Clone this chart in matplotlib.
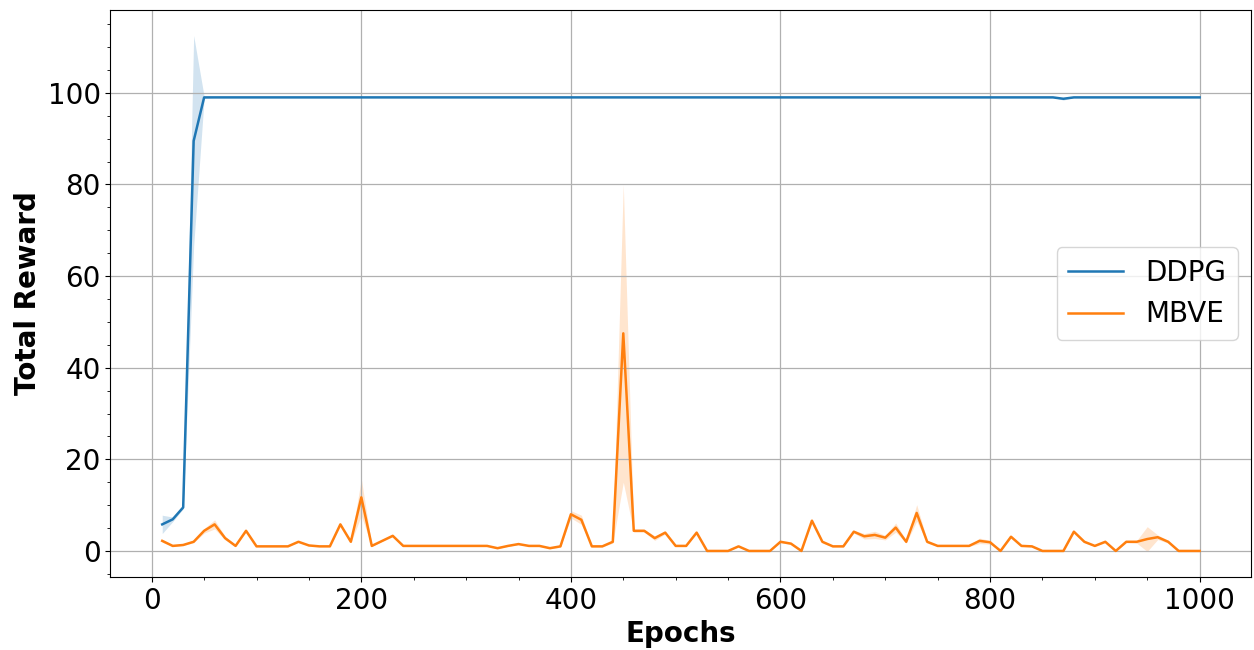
import numpy as np
import matplotlib
matplotlib.use("Agg")
import matplotlib.pyplot as plt

epochs = list(range(10, 1001, 10))

ddpg_mean = [5.8, 6.9, 9.5, 89.5] + [99.0] * 96
ddpg_mean[86] = 98.7
ddpg_std = [2.0, 0.5, 0.3, 23.0, 0.2] + [0.0] * 95
ddpg_std[86] = 0.3

mbve_mean = [
    2.2, 1.1, 1.3, 2.0, 4.4, 5.8, 2.8, 1.1, 4.4, 1.0,
    1.0, 1.0, 1.0, 2.0, 1.2, 1.0, 1.0, 5.8, 2.0, 11.7,
    1.1, 2.2, 3.3, 1.1, 1.1, 1.1, 1.1, 1.1, 1.1, 1.1,
    1.1, 1.1, 0.6, 1.1, 1.5, 1.1, 1.1, 0.6, 1.0, 8.0,
    6.8, 1.0, 1.0, 2.0, 47.5, 4.4, 4.4, 2.8, 4.0, 1.1,
    1.1, 4.0, 0.0, 0.0, 0.0, 1.0, 0.0, 0.0, 0.0, 2.0,
    1.6, 0.0, 6.6, 2.0, 1.0, 1.0, 4.2, 3.2, 3.5, 2.9,
    5.1, 2.0, 8.3, 2.0, 1.1, 1.1, 1.1, 1.1, 2.2, 1.9,
    0.0, 3.1, 1.1, 1.0, 0.0, 0.0, 0.0, 4.2, 2.0, 1.1,
    2.0, 0.0, 2.0, 2.0, 2.6, 3.0, 2.0, 0.0, 0.0, 0.0,
]
mbve_std = [
    0.3, 0.1, 0.1, 0.2, 0.5, 1.0, 0.4, 0.1, 0.3, 0.0,
    0.0, 0.0, 0.0, 0.1, 0.1, 0.0, 0.0, 0.3, 0.2, 4.0,
    0.1, 0.1, 0.2, 0.0, 0.0, 0.0, 0.0, 0.0, 0.0, 0.0,
    0.0, 0.0, 0.1, 0.1, 0.1, 0.1, 0.1, 0.1, 0.2, 0.8,
    1.0, 0.1, 0.1, 0.3, 32.5, 0.3, 0.3, 0.5, 0.3, 0.1,
    0.1, 0.2, 0.0, 0.0, 0.0, 0.1, 0.0, 0.0, 0.0, 0.2,
    0.2, 0.0, 0.5, 0.3, 0.1, 0.1, 0.3, 0.6, 0.8, 0.5,
    1.0, 0.3, 1.8, 0.3, 0.1, 0.1, 0.1, 0.1, 0.6, 0.4,
    0.0, 0.3, 0.1, 0.1, 0.0, 0.0, 0.0, 0.3, 0.2, 0.1,
    0.2, 0.0, 0.2, 0.3, 2.7, 0.5, 0.3, 0.0, 0.0, 0.0,
]

series = [("DDPG", ddpg_mean, ddpg_std), ("MBVE", mbve_mean, mbve_std)]

fig, ax = plt.subplots(figsize=(12.54, 6.5), dpi=100)
x = np.array(epochs)
for name, mean, std in series:
    m = np.array(mean)
    s = np.array(std)
    line, = ax.plot(x, m, linewidth=1.8, label=name)
    ax.fill_between(x, m - s, m + s, color=line.get_color(), alpha=0.2, linewidth=0)

ax.minorticks_on()
ax.grid(True, which="major", color="#b0b0b0", linewidth=0.9)
ax.tick_params(axis="both", which="major", labelsize=20)
ax.set_xlabel("Epochs", fontsize=20, fontweight="bold")
ax.set_ylabel("Total Reward", fontsize=20, fontweight="bold")
ax.legend(loc="center right", fontsize=20)

fig.subplots_adjust(left=0.088, right=0.998, top=0.985, bottom=0.112)
fig.savefig("out.png", dpi=100)
